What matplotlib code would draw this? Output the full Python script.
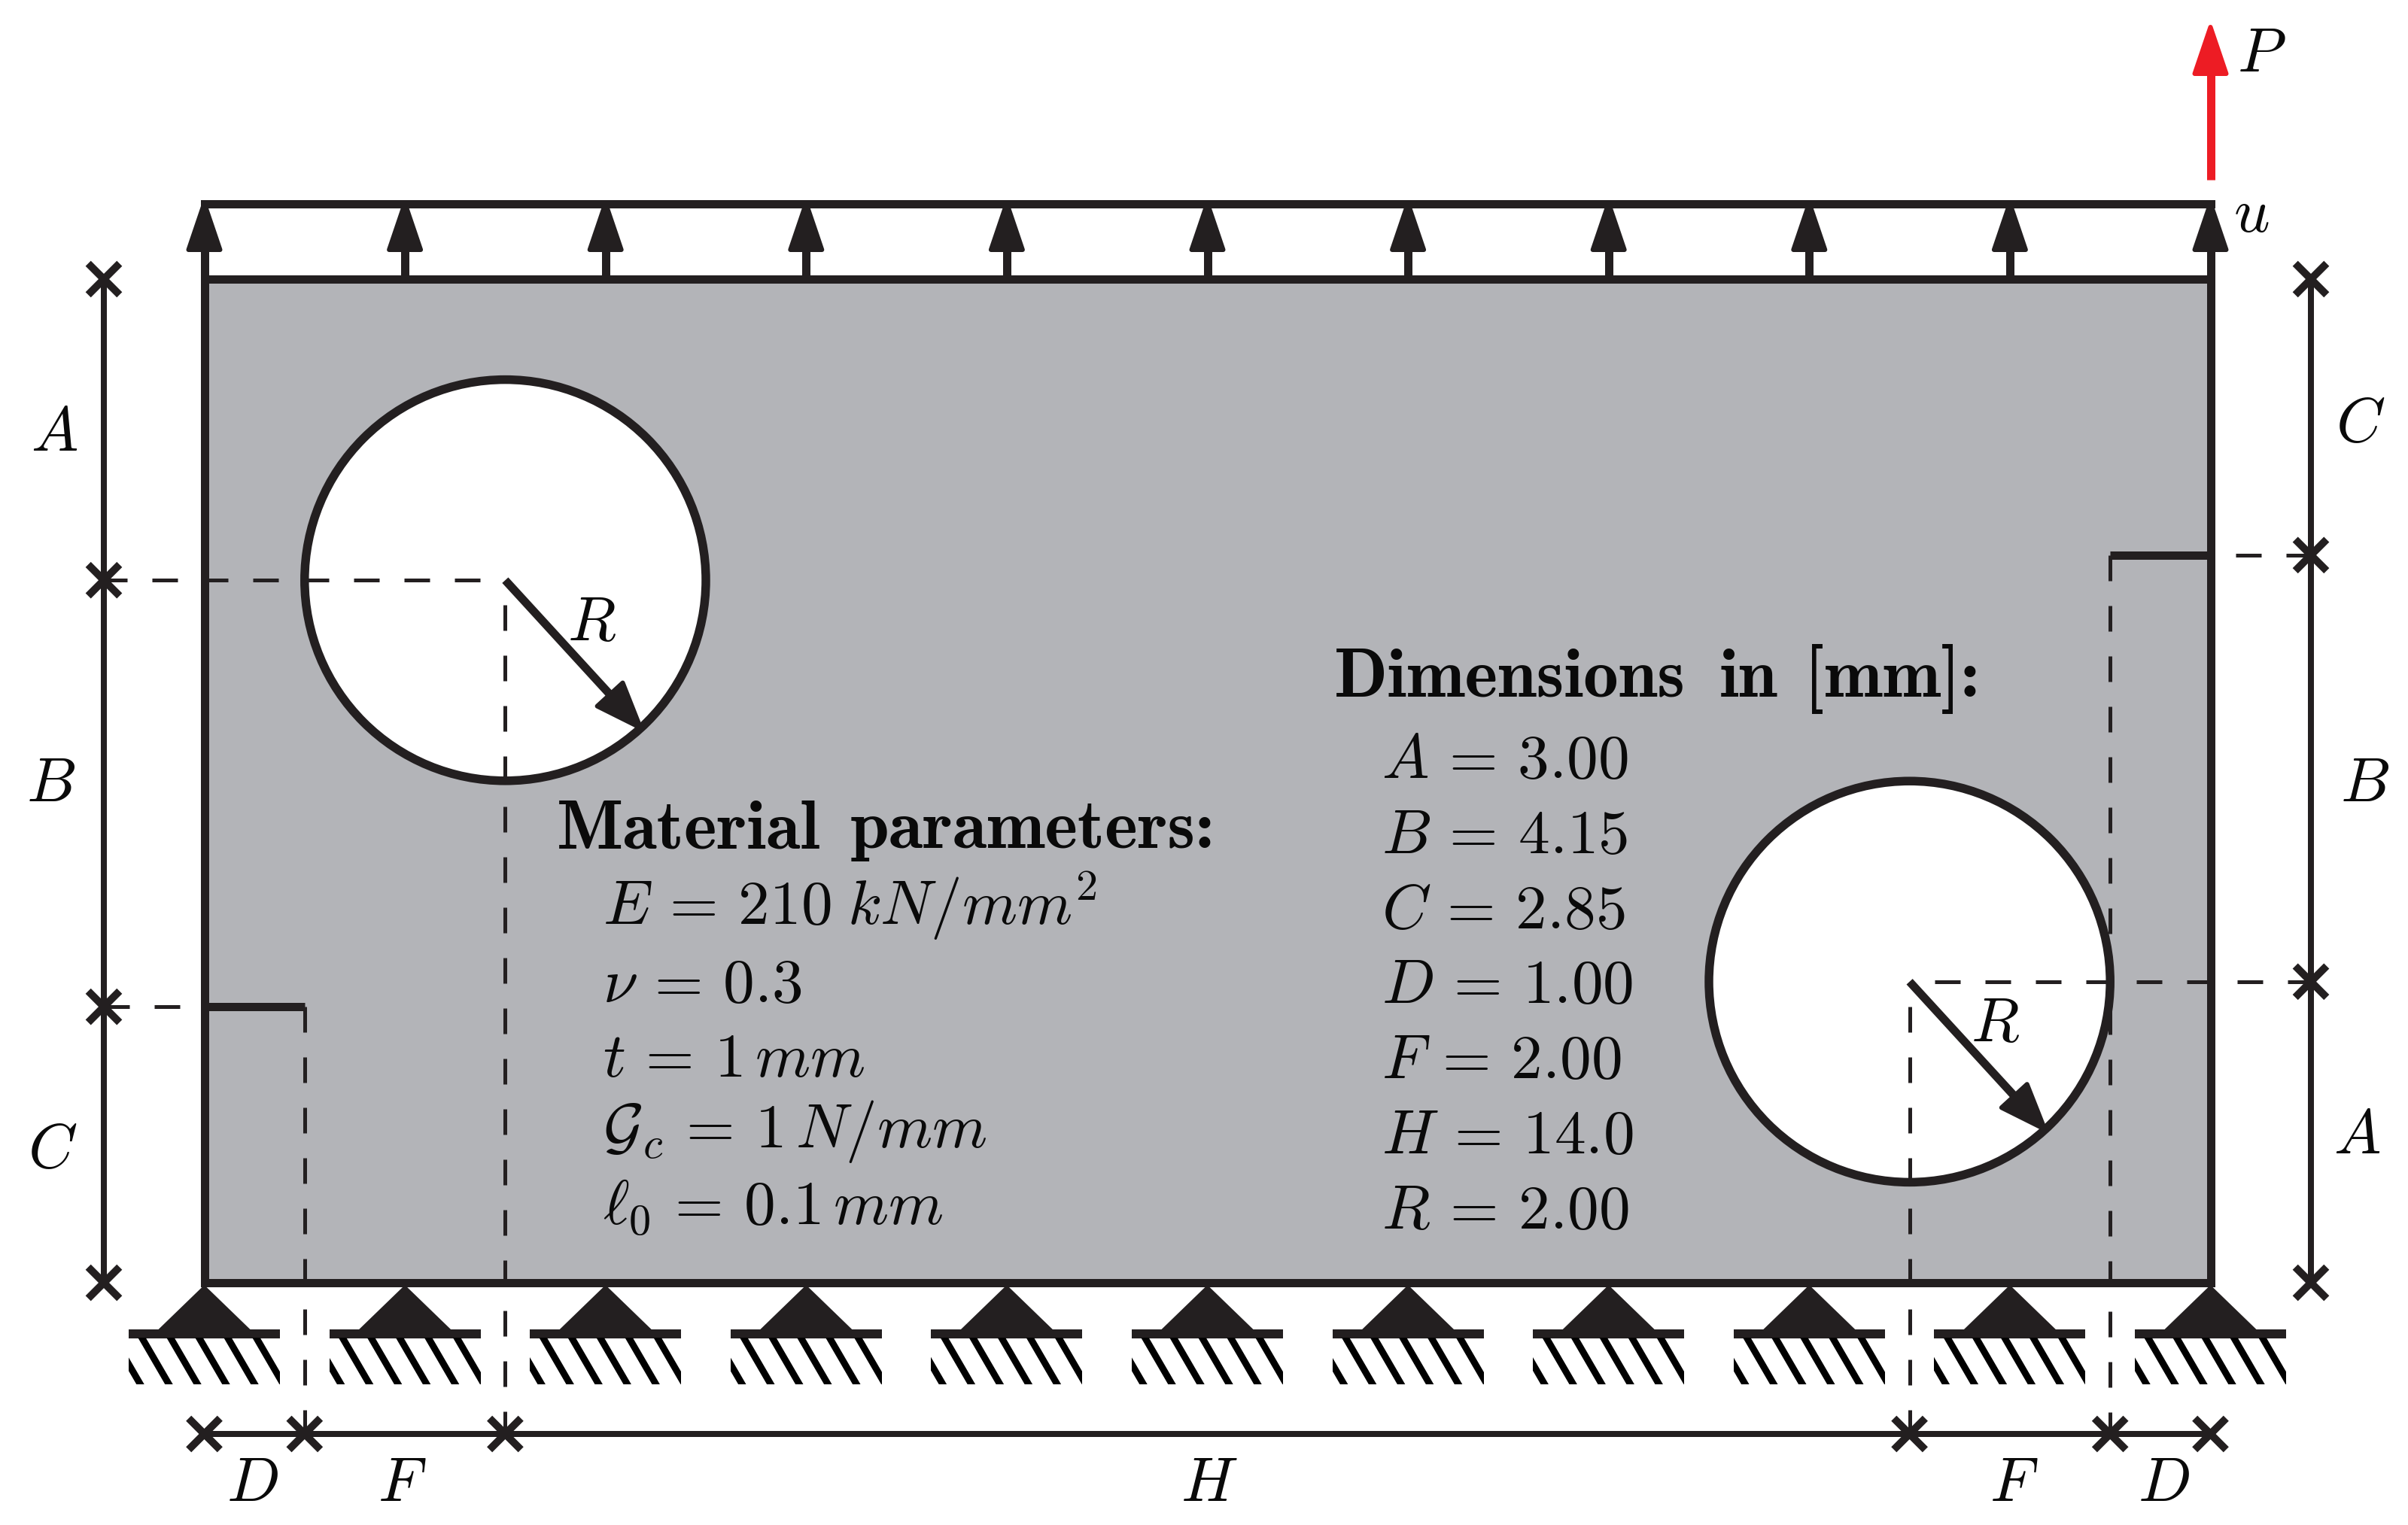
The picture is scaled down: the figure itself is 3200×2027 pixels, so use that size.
import numpy as np
import matplotlib
matplotlib.use("Agg")
import matplotlib.pyplot as plt
from matplotlib.patches import Rectangle, Circle, Polygon

plt.rcParams['mathtext.fontset'] = 'cm'

# dimensions as drawn, in mm
plate_w = 20.0
plate_h = 10.0
hole_r = 2.0
hole_centers = [(3.0, 7.0), (17.0, 3.0)]
left_ticks = [10.0, 7.0, 2.75, 0.0]
right_ticks = [10.0, 7.25, 3.0, 0.0]
bottom_ticks = [0.0, 1.0, 3.0, 17.0, 19.0, 20.0]
support_x = [0, 2, 4, 6, 8, 10, 12, 14, 16, 18, 20]

material_lines = [r"$E\,=\,210\;kN/mm^2$", r"$\nu\,=\,0.3$", r"$t\,=\,1\,mm$",
                  r"$\mathcal{G}_c\,=\,1\,N/mm$", r"$\ell_0\,=\,0.1\,mm$"]
dim_names = ["A", "B", "C", "D", "F", "H", "R"]
dim_values = ["3.00", "4.15", "2.85", "1.00", "2.00", "14.0", "2.00"]

DARK = "#231f20"
GRAY = "#b3b4b8"
RED = "#ed1c24"
FS = 30


def X(v):
    return 271.5 + 133.3 * v


def Y(v):
    return 1705 - 133.4 * v


def lw(px):
    return px * 72 / 200


def dashed(ax, x, y, offset=34):
    w = 5
    ax.plot(x, y, color=DARK, lw=lw(w), dash_capstyle='butt',
            linestyle=(offset / w, (34 / w, 33 / w)), zorder=3)


def cross(ax, x, y):
    s = 20.8
    ax.plot([x - s, x + s], [y - s, y + s], color=DARK, lw=lw(10), solid_capstyle='butt', zorder=5)
    ax.plot([x - s, x + s], [y + s, y - s], color=DARK, lw=lw(10), solid_capstyle='butt', zorder=5)


def arrow(ax, x0, y0, x1, y1, color=DARK, head_len=62, head_w=21):
    d = np.array([x1 - x0, y1 - y0], dtype=float)
    d /= np.hypot(*d)
    n = np.array([-d[1], d[0]])
    tip = np.array([x1, y1])
    base = tip - d * head_len
    ax.plot([x0, base[0]], [y0, base[1]], color=color, lw=lw(11), solid_capstyle='butt', zorder=6)
    ax.add_patch(Polygon([tip, base + n * head_w, base - n * head_w], closed=True, fc=color,
                         ec=color, lw=lw(6), joinstyle='round', zorder=6))


def label(ax, x, y, s, fs=FS):
    ax.text(x - 6, y, s, fontsize=fs, ha='left', va='baseline', color="#0a0a0a", zorder=8)


def heading(ax, x, y, s):
    ax.text(x, y, s, family='cmb10', fontsize=33.5, ha='left', va='baseline', color="#0a0a0a", zorder=8)


fig = plt.figure(figsize=(16, 10.135), dpi=200)
ax = fig.add_axes([0, 0, 1, 1])
ax.set_xlim(0, 3200)
ax.set_ylim(2027, 0)
ax.axis('off')

# plate and holes
ax.add_patch(Rectangle((X(0), Y(plate_h)), X(plate_w) - X(0), Y(0) - Y(plate_h), fc=GRAY, ec='none', zorder=1))
for cx, cy in hole_centers:
    ax.add_patch(Circle((X(cx), Y(cy)), hole_r * 133.3, fc='white', ec='none', zorder=2))

# construction lines
dashed(ax, [X(3), X(3)], [Y(7), 1906])
dashed(ax, [X(17), X(17)], [Y(3), 1906])
dashed(ax, [X(3), 138], [Y(7), Y(7)])
dashed(ax, [X(17), 3071], [Y(3), Y(3)])
dashed(ax, [X(1), X(1)], [Y(left_ticks[2]), 1906], offset=0)
dashed(ax, [X(19), X(19)], [Y(right_ticks[1]), 1906], offset=0)
dashed(ax, [X(0), 138], [Y(left_ticks[2]), Y(left_ticks[2])])
dashed(ax, [X(20), 3071], [Y(right_ticks[1]), Y(right_ticks[1])])

for cx, cy in hole_centers:
    ax.add_patch(Circle((X(cx), Y(cy)), hole_r * 133.3, fc='none', ec=DARK, lw=lw(11.5), zorder=4))

# plate frame, top rigid bar, notches
frame = dict(color=DARK, lw=lw(11), solid_capstyle='projecting', zorder=5)
ax.plot([X(0), X(plate_w)], [Y(0), Y(0)], **frame)
ax.plot([X(0), X(plate_w)], [Y(plate_h), Y(plate_h)], **frame)
ax.plot([X(0), X(plate_w)], [271, 271], **frame)
ax.plot([X(0), X(0)], [Y(0), Y(plate_h)], **frame)
ax.plot([X(plate_w), X(plate_w)], [Y(0), Y(plate_h)], **frame)
ax.plot([X(0), X(1)], [Y(left_ticks[2]), Y(left_ticks[2])], color=DARK, lw=lw(11), solid_capstyle='butt', zorder=5)
ax.plot([X(19), X(20)], [Y(right_ticks[1]), Y(right_ticks[1])], color=DARK, lw=lw(11), solid_capstyle='butt', zorder=5)

# displacement arrows
for sx in support_x:
    arrow(ax, X(sx), Y(plate_h), X(sx), 270)
arrow(ax, X(plate_w), 239, X(plate_w), 36, color=RED)

# radius arrows
ang = np.radians(47.5)
for cx, cy in hole_centers:
    x0, y0 = X(cx), Y(cy)
    arrow(ax, x0, y0, x0 + 266 * np.cos(ang), y0 + 266 * np.sin(ang), head_len=60, head_w=23)

# supports
for sx in support_x:
    c = X(sx)
    ax.add_patch(Polygon([(c, Y(0) + 3), (c - 62, 1768), (c + 62, 1768)], closed=True, fc=DARK, ec='none', zorder=4))
    ax.add_patch(Rectangle((c - 100.5, 1767), 201, 11.5, fc=DARK, ec='none', zorder=4))
    clip = Rectangle((c - 100.5, 1778), 201, 62, transform=ax.transData)
    for off in np.arange(-121, 110, 38):
        ln, = ax.plot([c + off, c + off + 36], [1778, 1840], color='black', lw=lw(9),
                      solid_capstyle='projecting', zorder=4)
        ln.set_clip_path(clip)

# dimension lines
ax.plot([138, 138], [Y(plate_h), Y(0)], color=DARK, lw=lw(8), solid_capstyle='butt', zorder=4)
ax.plot([3071, 3071], [Y(plate_h), Y(0)], color=DARK, lw=lw(8), solid_capstyle='butt', zorder=4)
ax.plot([X(0), X(plate_w)], [1906, 1906], color=DARK, lw=lw(8), solid_capstyle='butt', zorder=4)
for t in left_ticks:
    cross(ax, 138, Y(t))
for t in right_ticks:
    cross(ax, 3071, Y(t))
for t in bottom_ticks:
    cross(ax, X(t), 1906)

# dimension letters
label(ax, 47, 599, "$A$")
label(ax, 41, 1065, "$B$")
label(ax, 43, 1552, "$C$")
label(ax, 3110, 587, "$C$")
label(ax, 3116, 1065, "$B$")
label(ax, 3107, 1533, "$A$")
label(ax, 307, 1995, "$D$")
label(ax, 508, 1995, "$F$")
label(ax, 1575, 1995, "$H$")
label(ax, 2650, 1995, "$F$")
label(ax, 2847, 1995, "$D$")
label(ax, 2979, 95, "$P$")
label(ax, 2974, 308, "$u$")
label(ax, 760, 851, "$R$")
label(ax, 2625, 1384, "$R$")

# material block
heading(ax, 740, 1127, "Material")
heading(ax, 1130, 1127, "parameters:")
for s, y in zip(material_lines, [1229, 1332, 1431, 1525, 1627]):
    label(ax, 807, y, s)

# dimensions block
heading(ax, 1773, 926, "Dimensions")
heading(ax, 2285, 926, "in")
heading(ax, 2398, 926, "[mm]:")
for i, (n, v) in enumerate(zip(dim_names, dim_values)):
    label(ax, 1842, 1034 + i * 99.8, "$%s\\,=\\,%s$" % (n, v))

fig.savefig("out.png", dpi=200, facecolor='white')
